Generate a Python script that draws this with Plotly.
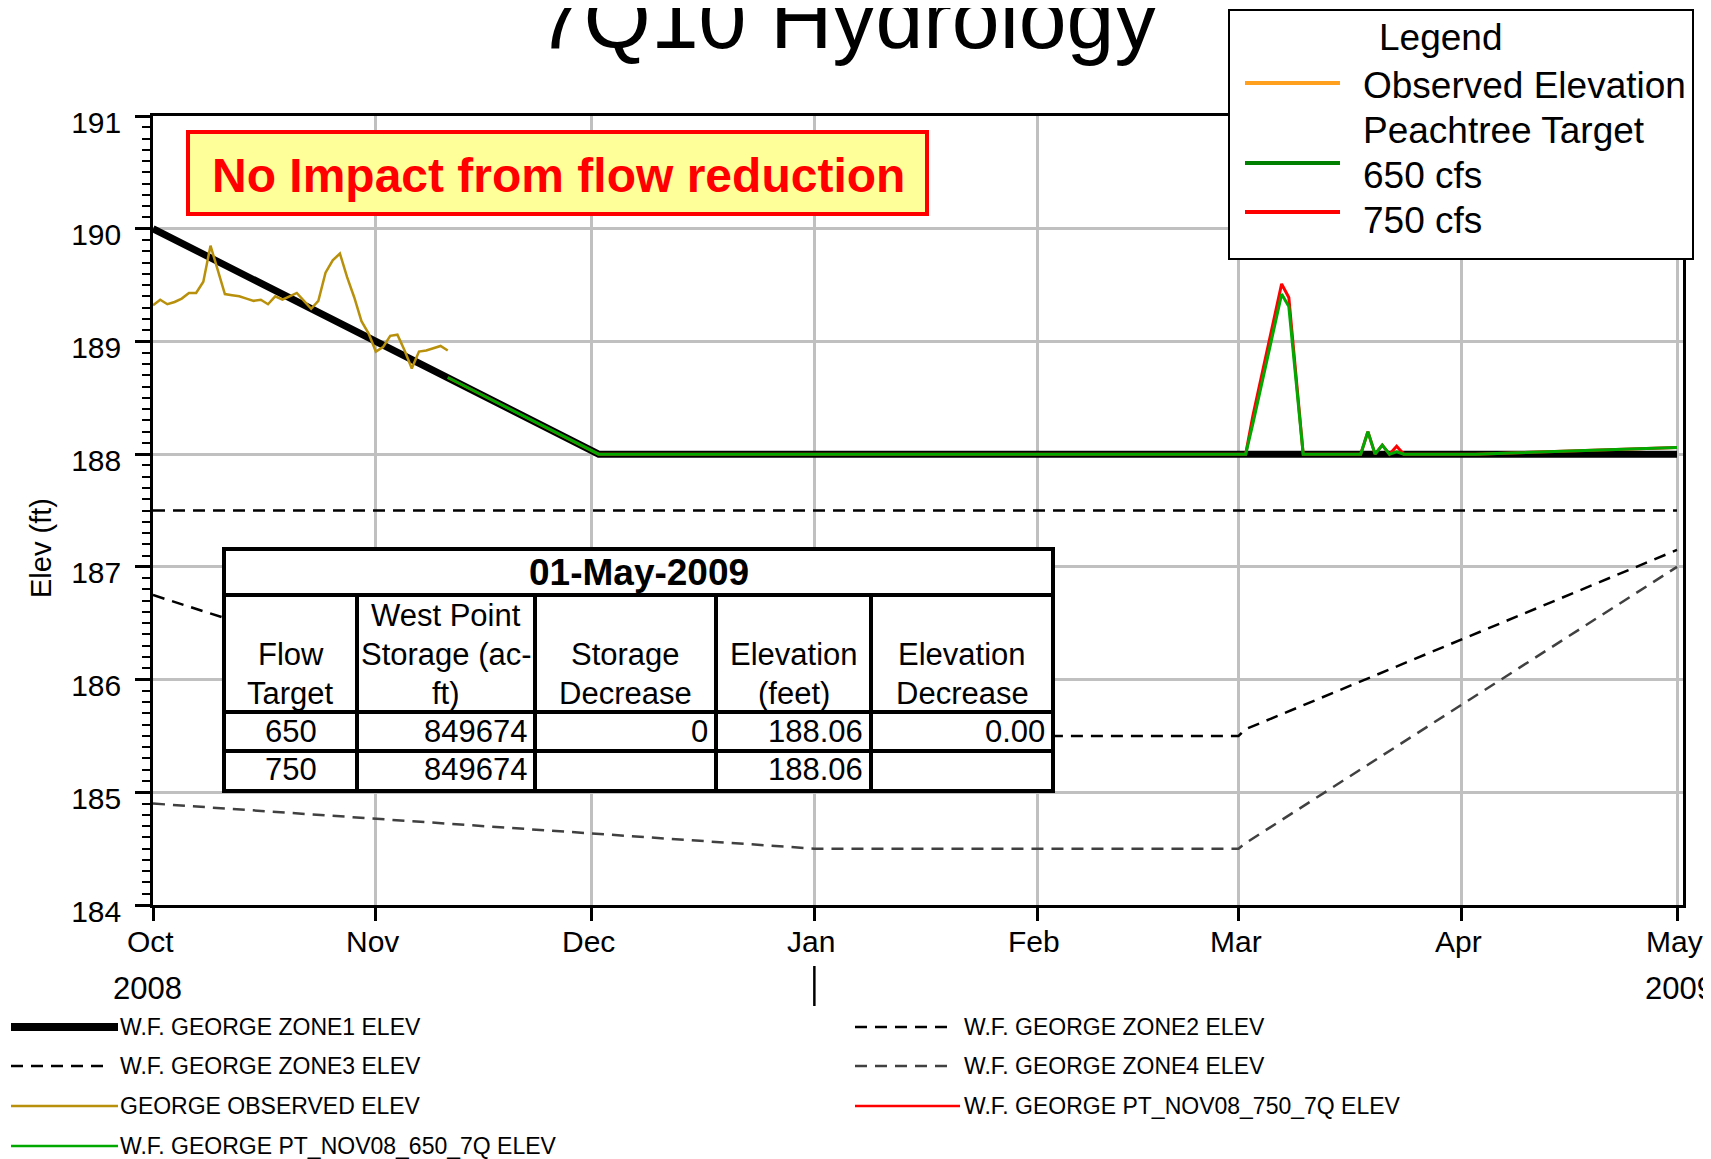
import plotly.graph_objects as go
import pandas as pd

FONT = "Liberation Sans, Arial, Helvetica, sans-serif"

# ---------------- data ----------------
zone1_dates = ["2008-10-01", "2008-11-01", "2008-12-02", "2009-05-01"]
zone1_elev = [190.0, 189.0, 188.0, 188.0]

zone2_dates = ["2008-10-01", "2009-05-01"]
zone2_elev = [187.5, 187.5]

zone3_dates = ["2008-10-01", "2008-12-01", "2009-03-01", "2009-03-02", "2009-05-01"]
zone3_elev = [186.75, 185.5, 185.5, 185.56, 187.15]

zone4_dates = ["2008-10-01", "2009-01-01", "2009-03-01", "2009-03-02", "2009-05-01"]
zone4_elev = [184.9, 184.5, 184.5, 184.55, 187.0]

obs_start = "2008-10-01"
obs_elev = [189.32, 189.37, 189.33, 189.35, 189.38, 189.43, 189.43, 189.53, 189.85, 189.63,
            189.42, 189.41, 189.40, 189.38, 189.36, 189.37, 189.33, 189.40, 189.37, 189.40,
            189.43, 189.36, 189.29, 189.36, 189.61, 189.72, 189.78, 189.57, 189.39, 189.18,
            189.07, 188.91, 188.95, 189.05, 189.06, 188.92, 188.76, 188.91, 188.92, 188.94,
            188.96, 188.92]

pt_dates = ["2008-11-11", "2008-12-02", "2009-03-02", "2009-03-03", "2009-03-07", "2009-03-08",
            "2009-03-10", "2009-03-18", "2009-03-19", "2009-03-20", "2009-03-21", "2009-03-22",
            "2009-03-23", "2009-03-24", "2009-04-03", "2009-05-01"]
pt650_elev = [188.68, 188.0, 188.0, 188.27, 189.42, 189.31, 188.0, 188.0, 188.2, 188.0,
              188.08, 188.0, 188.02, 188.0, 188.0, 188.06]
pt750_elev = [188.68, 188.0, 188.0, 188.34, 189.51, 189.39, 188.0, 188.0, 188.2, 188.0,
              188.08, 188.0, 188.07, 188.0, 188.0, 188.06]

month_ticks = ["2008-10-01", "2008-11-01", "2008-12-01", "2009-01-01", "2009-02-01",
               "2009-03-01", "2009-04-01", "2009-05-01"]
month_labels = ["Oct", "Nov", "Dec", "Jan", "Feb", "Mar", "Apr", "May"]
year_ticks = ["2008-10-01", "2009-05-01"]
year_labels = ["2008", "2009"]
year_break = "2009-01-01"

table_title = "01-May-2009"
table_headers = [["Flow", "Target"], ["West Point", "Storage (ac-", "ft)"],
                 ["Storage", "Decrease"], ["Elevation", "(feet)"], ["Elevation", "Decrease"]]
table_flow = ["650", "750"]
table_storage = ["849674", "849674"]
table_storage_dec = ["0", ""]
table_elev = ["188.06", "188.06"]
table_elev_dec = ["0.00", ""]

legend_top_title = "Legend"
legend_top_items = ["Observed Elevation", "Peachtree Target", "650 cfs", "750 cfs"]
legend_top_colors = ["#ffa01e", None, "#008000", "#ff0000"]

series_names = ["W.F. GEORGE ZONE1 ELEV", "W.F. GEORGE ZONE2 ELEV", "W.F. GEORGE ZONE3 ELEV",
                "W.F. GEORGE ZONE4 ELEV", "GEORGE OBSERVED ELEV", "W.F. GEORGE PT_NOV08_750_7Q ELEV",
                "W.F. GEORGE PT_NOV08_650_7Q ELEV"]

title_text = "7Q10 Hydrology"
note_text = "No Impact from flow reduction"

# ---------------- layout geometry (screen pixels) ----------------
# the page body keeps its default 8px margin, so the figure starts 8px in
OFF = 8
W, H = 1711, 1159
L, R, T, B = 153, 1683, 116, 905


def px(x):
    return (x - L) / (R - L)


def py(y):
    return (B - y) / (B - T)


obs_dates = pd.date_range(obs_start, periods=len(obs_elev), freq="D")

DASH = "12px,8px"
styles = {
    series_names[0]: dict(color="black", width=7, dash="solid"),
    series_names[1]: dict(color="black", width=2.5, dash=DASH),
    series_names[2]: dict(color="black", width=2.5, dash=DASH),
    series_names[3]: dict(color="#404040", width=2.5, dash=DASH),
    series_names[4]: dict(color="#b8900b", width=2.5, dash="solid"),
    series_names[5]: dict(color="#ff0000", width=3, dash="solid"),
    series_names[6]: dict(color="#00a800", width=3, dash="solid"),
}

fig = go.Figure()
series_xy = [
    (zone2_dates, zone2_elev, series_names[1]),
    (zone3_dates, zone3_elev, series_names[2]),
    (zone4_dates, zone4_elev, series_names[3]),
    (zone1_dates, zone1_elev, series_names[0]),
    (obs_dates, obs_elev, series_names[4]),
    (pt_dates, pt750_elev, series_names[5]),
    (pt_dates, pt650_elev, series_names[6]),
]
for xs, ys, name in series_xy:
    fig.add_trace(go.Scatter(x=xs, y=ys, mode="lines", name=name, line=styles[name],
                             showlegend=False, hoverinfo="skip"))

shapes = []
annotations = []


def txt(x, y, s, size, xanchor="left", color="black", yanchor="middle", **kw):
    d = dict(xref="paper", yref="paper", x=px(x), y=py(y), text=s, showarrow=False,
             xanchor=xanchor, yanchor=yanchor, font=dict(family=FONT, size=size, color=color))
    d.update(kw)
    annotations.append(d)


def rect(x0, y0, x1, y1, fill, lc, lw):
    shapes.append(dict(type="rect", xref="paper", yref="paper", x0=px(x0), x1=px(x1),
                       y0=py(y0), y1=py(y1), fillcolor=fill, line=dict(color=lc, width=lw),
                       layer="above"))


def hline(x0, x1, y, color, lw, dash="solid"):
    shapes.append(dict(type="line", xref="paper", yref="paper", x0=px(x0), x1=px(x1),
                       y0=py(y), y1=py(y), line=dict(color=color, width=lw, dash=dash),
                       layer="above"))


def vline(x, y0, y1, color, lw):
    shapes.append(dict(type="line", xref="paper", yref="paper", x0=px(x), x1=px(x),
                       y0=py(y0), y1=py(y1), line=dict(color=color, width=lw), layer="above"))


# title
txt(846, 18, title_text, 86, xanchor="center")

# note box
rect(188, 132, 927, 214, "#ffff99", "#ff0000", 4)
txt(558, 175, "<b>" + note_text + "</b>", 48, xanchor="center", color="#ff0000")

# top legend box
rect(1229, 10, 1693, 259, "white", "black", 2)
txt(1440, 37, legend_top_title, 37, xanchor="center")
top_text_y = [85, 130, 175, 220]
top_line_y = [83, None, 163, 212]
for label, color, ty, ly in zip(legend_top_items, legend_top_colors, top_text_y, top_line_y):
    txt(1361, ty, label, 37)
    if color is not None:
        hline(1245, 1340, ly, color, 4)

# table
tx0, tx1 = 224, 1053
ty0, ty_title, ty_head, ty_r1, ty1 = 549, 595, 712, 751, 791
col_x = [224, 357, 535, 716, 871, 1053]
rect(tx0, ty0, tx1, ty1, "white", "black", 4)
hline(tx0, tx1, ty_title, "black", 4)
hline(tx0, tx1, ty_head, "black", 4)
hline(tx0, tx1, ty_r1, "black", 4)
for cx in col_x[1:-1]:
    vline(cx, ty_title, ty1, "black", 4)
txt((tx0 + tx1) / 2, 572, "<b>" + table_title + "</b>", 37, xanchor="center")
head_line_y = [615, 654, 693]
for i, lines in enumerate(table_headers):
    cx = (col_x[i] + col_x[i + 1]) / 2
    ys = head_line_y[-len(lines):]
    for s, yy in zip(lines, ys):
        txt(cx, yy, s, 31, xanchor="center")
row_y = [731, 769]
for r in range(2):
    txt((col_x[0] + col_x[1]) / 2, row_y[r], table_flow[r], 31, xanchor="center")
    for ci, vals in zip([2, 3, 4, 5], [table_storage, table_storage_dec, table_elev, table_elev_dec]):
        if vals[r]:
            txt(col_x[ci] - 6, row_y[r], vals[r], 31, xanchor="right")

# y-axis title
txt(41, 548, "Elev (ft)", 29, xanchor="center", textangle=-90)

# month labels, year labels and year-break tick
for d, s in zip(month_ticks, month_labels):
    annotations.append(dict(xref="x", yref="paper", x=d, y=py(941), text=s, showarrow=False,
                            xanchor="center", yanchor="middle", xshift=-3,
                            font=dict(family=FONT, size=30, color="black")))
for d, s, xs in zip(year_ticks, year_labels, [-6, 2]):
    annotations.append(dict(xref="x", yref="paper", x=d, y=py(988), text=s, showarrow=False,
                            xanchor="center", yanchor="middle", xshift=xs,
                            font=dict(family=FONT, size=31, color="black")))
shapes.append(dict(type="line", xref="x", yref="paper", x0=year_break, x1=year_break,
                   y0=py(966), y1=py(1006), line=dict(color="black", width=2.5)))

# bottom legend
leg_rows = [1027, 1066, 1106, 1146]
left_items = [series_names[0], series_names[2], series_names[4], series_names[6]]
right_items = [series_names[1], series_names[3], series_names[5]]
for name, yy in zip(left_items, leg_rows):
    st = styles[name]
    x1 = 118 if st["dash"] == "solid" else 109
    lw = 8 if st["width"] > 5 else 2.5
    hline(11, x1, yy, st["color"], lw, st["dash"])
    txt(118, yy, name, 23)
for name, yy in zip(right_items, leg_rows):
    st = styles[name]
    x1 = 960 if st["dash"] == "solid" else 954
    hline(855, x1, yy, st["color"], 2.5, st["dash"])
    txt(962, yy, name, 23)

ml, mt = L - OFF, T - OFF
fig.update_layout(
    width=W, height=H,
    margin=dict(l=ml, r=W - ml - (R - L), t=mt, b=H - mt - (B - T), pad=0),
    paper_bgcolor="white", plot_bgcolor="white",
    showlegend=False,
    font=dict(family=FONT, size=30, color="black"),
    shapes=shapes, annotations=annotations,
    xaxis=dict(type="date", range=["2008-10-01", "2009-05-01 20:00"],
               tickmode="array", tickvals=month_ticks, ticktext=month_labels,
               showticklabels=False,
               ticks="outside", ticklen=13, tickwidth=2.5, tickcolor="black",
               showgrid=True, gridcolor="#c0c0c0", gridwidth=2.5,
               showline=True, linecolor="black", linewidth=2.5, mirror=True,
               zeroline=False),
    yaxis=dict(range=[184, 191], tickmode="linear", tick0=184, dtick=1,
               ticks="outside", ticklen=15, tickwidth=2.5, tickcolor="black",
               ticklabelstandoff=8, ticklabelshift=6,
               minor=dict(dtick=0.1, ticks="outside", ticklen=8, tickwidth=2, tickcolor="black",
                          showgrid=False),
               showgrid=True, gridcolor="#c0c0c0", gridwidth=2.5,
               showline=True, linecolor="black", linewidth=2.5, mirror=True,
               zeroline=False, tickfont=dict(size=30, family=FONT, color="black")),
)

fig.write_html("out.html", config={"displayModeBar": False})
